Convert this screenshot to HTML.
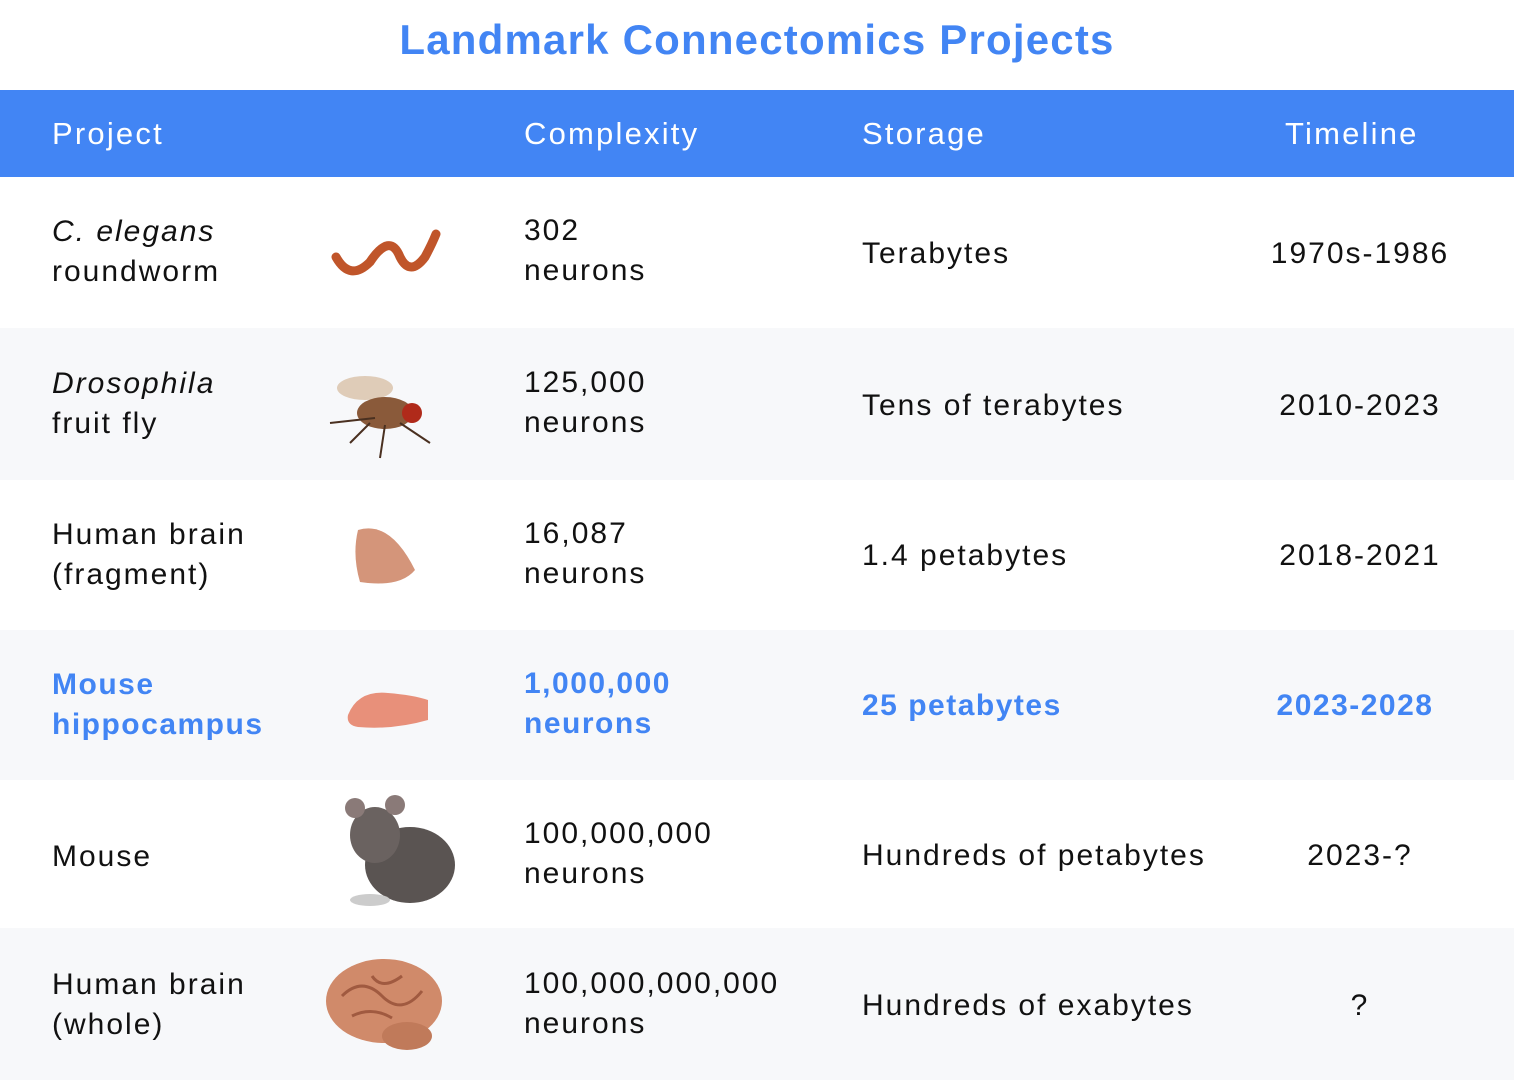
<!DOCTYPE html>
<html><head><meta charset="utf-8"><style>
*{margin:0;padding:0;box-sizing:border-box}
body{width:1514px;height:1080px;background:#fff;font-family:"Liberation Sans",sans-serif;color:#111;position:relative;overflow:hidden}
.title{position:absolute;top:16px;left:0;width:1514px;text-align:center;font-size:42px;font-weight:bold;color:#4285f4;letter-spacing:1.2px}
.hdr{position:absolute;top:90px;left:0;width:1514px;height:87px;background:#4285f4;color:#fff;font-size:31px;letter-spacing:2.2px}
.hdr span{position:absolute;top:26px}
.row{position:absolute;left:0;width:1514px;font-size:30px;letter-spacing:2px}
.g{background:#f7f8fa}
.c{position:absolute;line-height:40px}
.t{position:absolute;left:1210px;width:300px;text-align:center;line-height:40px}
.blue{color:#4285f4;font-weight:bold;letter-spacing:1.5px}
svg{position:absolute}
</style></head><body>
<div class="title">Landmark Connectomics Projects</div>
<div class="hdr"><span style="left:52px">Project</span><span style="left:524px">Complexity</span><span style="left:862px">Storage</span><span style="left:1285px">Timeline</span></div>

<div class="row" style="top:177px;height:151px">
<div class="c" style="left:52px;top:35px"><i>C. elegans</i><br>roundworm</div>
<svg style="left:330px;top:45px" width="115" height="60"><path d="M6 35 Q20 60 40 40 Q60 10 70 35 Q80 55 95 35 Q102 22 106 12" stroke="#c0552a" stroke-width="9" fill="none" stroke-linecap="round"/></svg>
<div class="c" style="left:524px;top:34px">302<br>neurons</div>
<div class="c" style="left:862px;top:57px">Terabytes</div>
<div class="t" style="top:57px">1970s-1986</div>
</div>

<div class="row g" style="top:328px;height:152px">
<div class="c" style="left:52px;top:36px"><i>Drosophila</i><br>fruit fly</div>
<svg style="left:320px;top:35px" width="130" height="100"><ellipse cx="45" cy="25" rx="28" ry="12" fill="#d8c0a8" opacity=".8"/><ellipse cx="65" cy="50" rx="28" ry="16" fill="#8a5a3a"/><circle cx="92" cy="50" r="10" fill="#b02a1a"/><path d="M50 60 L30 80 M65 62 L60 95 M80 60 L110 80 M55 55 L10 60" stroke="#4a3020" stroke-width="2"/></svg>
<div class="c" style="left:524px;top:35px">125,000<br>neurons</div>
<div class="c" style="left:862px;top:58px">Tens of terabytes</div>
<div class="t" style="top:58px">2010-2023</div>
</div>

<div class="row" style="top:480px;height:150px">
<div class="c" style="left:52px;top:35px">Human brain<br>(fragment)</div>
<svg style="left:350px;top:40px" width="75" height="70"><path d="M8 10 Q40 0 65 50 Q50 68 10 62 Q2 35 8 10Z" fill="#d4957a"/></svg>
<div class="c" style="left:524px;top:34px">16,087<br>neurons</div>
<div class="c" style="left:862px;top:56px">1.4 petabytes</div>
<div class="t" style="top:56px">2018-2021</div>
</div>

<div class="row g" style="top:630px;height:150px">
<div class="c blue" style="left:52px;top:35px">Mouse<br>hippocampus</div>
<svg style="left:343px;top:55px" width="90" height="45"><path d="M5 30 Q15 5 45 8 Q70 10 85 15 L85 35 Q50 45 15 42 Q3 40 5 30Z" fill="#e8907a"/></svg>
<div class="c blue" style="left:524px;top:34px">1,000,000<br>neurons</div>
<div class="c blue" style="left:862px;top:56px">25 petabytes</div>
<div class="t blue" style="top:56px;left:1205px">2023-2028</div>
</div>

<div class="row" style="top:780px;height:148px">
<div class="c" style="left:52px;top:57px">Mouse</div>
<svg style="left:330px;top:10px" width="130" height="125"><ellipse cx="80" cy="75" rx="45" ry="38" fill="#5a5452"/><ellipse cx="45" cy="45" rx="25" ry="28" fill="#6a6260"/><circle cx="25" cy="18" r="10" fill="#8a7a78"/><circle cx="65" cy="15" r="10" fill="#8a7a78"/><ellipse cx="40" cy="110" rx="20" ry="6" fill="#ccc"/></svg>
<div class="c" style="left:524px;top:34px">100,000,000<br>neurons</div>
<div class="c" style="left:862px;top:56px">Hundreds of petabytes</div>
<div class="t" style="top:56px">2023-?</div>
</div>

<div class="row g" style="top:928px;height:152px">
<div class="c" style="left:52px;top:37px">Human brain<br>(whole)</div>
<svg style="left:322px;top:28px" width="130" height="100"><ellipse cx="62" cy="45" rx="58" ry="42" fill="#d08a6a"/><ellipse cx="85" cy="80" rx="25" ry="14" fill="#c07a5a"/><path d="M20 40 Q40 20 60 40 T100 35 M30 60 Q50 50 70 62 M50 20 Q60 35 80 20" stroke="#a05a40" stroke-width="3" fill="none"/></svg>
<div class="c" style="left:524px;top:36px">100,000,000,000<br>neurons</div>
<div class="c" style="left:862px;top:58px">Hundreds of exabytes</div>
<div class="t" style="top:58px">?</div>
</div>
</body></html>
